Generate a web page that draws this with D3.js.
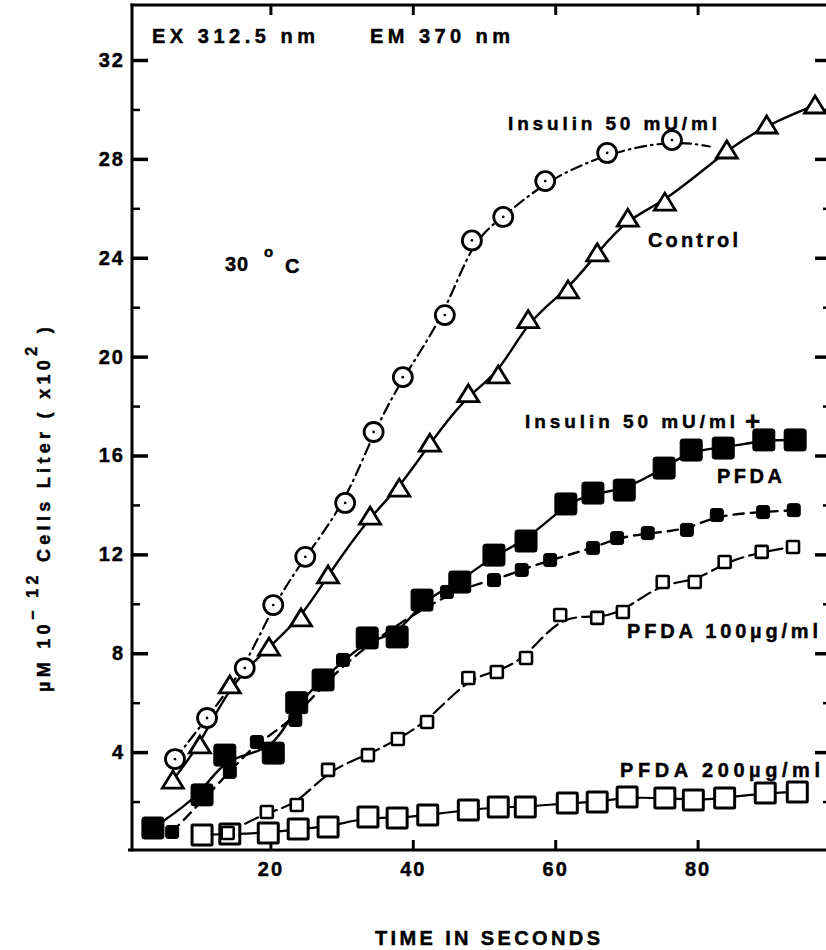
<!DOCTYPE html>
<html><head><meta charset="utf-8">
<script src="https://cdn.jsdelivr.net/npm/d3@7/dist/d3.min.js"></script>
<style>
body{margin:0;background:#fff}
svg{display:block}
text{font-family:"Liberation Sans",Arial,Helvetica,sans-serif;font-weight:bold;fill:#000;stroke:#000;stroke-width:0.45px}
</style>
</head><body>
<svg id="c" width="826" height="950"></svg>
<script>
// ---------- data ----------
const xTicks = [20, 40, 60, 80];
const yMajor = [4, 8, 12, 16, 20, 24, 28, 32];
const yMinor = [2, 6, 10, 14, 18, 22, 26, 30];

// Insulin 50 mU/ml (open circles, dash-dot)
const insulinT = [6.6, 11.1, 16.4, 20.4, 24.9, 30.5, 34.5, 38.6, 44.5, 48.3, 52.7, 58.6, 67.3, 76.4];
const insulinV = [3.72, 5.38, 7.4, 9.95, 11.9, 14.08, 16.95, 19.17, 21.68, 24.7, 25.65, 27.1, 28.24, 28.76];
const insulinTailT = [81.7];
const insulinTailV = [28.5];

// Control (open triangles, solid)
const controlT = [6.3, 10.1, 14.3, 19.8, 24.3, 28.1, 34.0, 38.1, 42.4, 47.8, 52.0, 56.2, 61.8, 65.9, 70.2, 75.4, 84.1, 89.7, 96.5];
const controlV = [2.87, 4.29, 6.72, 8.25, 9.43, 11.17, 13.55, 14.68, 16.5, 18.5, 19.26, 21.5, 22.7, 24.2, 25.6, 26.25, 28.36, 29.37, 30.18];

// Insulin 50 mU/ml + PFDA (large filled squares, solid)
const insPfdaT = [3.5, 10.4, 13.6, 20.4, 23.7, 27.4, 33.6, 37.8, 41.3, 46.6, 51.4, 55.9, 61.5, 65.3, 69.7, 75.3, 79.1, 83.6, 89.3, 93.7];
const insPfdaV = [0.93, 2.27, 3.88, 3.96, 6.0, 6.92, 8.62, 8.66, 10.15, 10.88, 11.97, 12.54, 14.04, 14.48, 14.6, 15.49, 16.22, 16.3, 16.63, 16.63];

// small filled squares (dashed)
const smallFilledT = [6.2, 14.3, 18.1, 23.5, 30.2, 44.8, 51.4, 55.3, 59.3, 65.3, 68.7, 73.0, 78.5, 82.7, 89.2, 93.5];
const smallFilledV = [0.77, 3.2, 4.41, 5.3, 7.73, 10.48, 10.96, 11.37, 11.77, 12.26, 12.66, 12.86, 12.99, 13.59, 13.71, 13.79];

// PFDA 100 ug/ml (small open squares, dashed)
const pfda100T = [14.0, 19.5, 23.7, 28.1, 33.7, 37.9, 42.0, 47.8, 51.8, 55.9, 60.7, 65.9, 69.5, 75.1, 79.6, 83.8, 89.0, 93.4];
const pfda100V = [0.73, 1.58, 1.86, 3.28, 3.88, 4.53, 5.22, 7.0, 7.24, 7.81, 9.55, 9.43, 9.67, 10.88, 10.88, 11.69, 12.1, 12.3];

// PFDA 200 ug/ml (large open squares, solid)
const pfda200T = [10.4, 14.3, 19.7, 23.9, 28.1, 33.7, 37.8, 42.1, 47.8, 52.0, 55.8, 61.7, 65.9, 70.1, 75.4, 79.4, 83.8, 89.5, 94.0];
const pfda200V = [0.65, 0.69, 0.73, 0.89, 0.97, 1.38, 1.33, 1.46, 1.66, 1.78, 1.78, 1.94, 1.98, 2.18, 2.14, 2.06, 2.14, 2.35, 2.39];

const zip = (a, b) => a.map((t, i) => [t, b[i]]);

// ---------- chart ----------
const svg = d3.select("#c");
const x = d3.scaleLinear().domain([0, 100]).range([128, 840]);
const y = d3.scaleLinear().domain([0, 32]).range([851, 60]);
const X0 = 132, X1 = 829, Y0 = 5, Y1 = 850;

// frame
const frame = svg.append("g").attr("stroke", "#000").attr("stroke-width", 3).attr("fill", "none");
frame.append("line").attr("x1", X0).attr("x2", X0).attr("y1", Y0 - 1.5).attr("y2", Y1 + 1.5);
frame.append("line").attr("x1", X1).attr("x2", X1).attr("y1", Y0 - 1.5).attr("y2", Y1 + 1.5);
frame.append("line").attr("x1", X0 - 4).attr("x2", X1).attr("y1", Y1).attr("y2", Y1);
frame.append("line").attr("x1", X0 - 1.5).attr("x2", X1).attr("y1", Y0).attr("y2", Y0);

function styleAxis(g, sw) {
  g.select(".domain").remove();
  g.selectAll(".tick line").attr("stroke", "#000").attr("stroke-width", sw);
  g.selectAll(".tick text").attr("font-size", 20).attr("letter-spacing", 2)
    .attr("font-family", '"Liberation Sans",Arial,sans-serif').attr("font-weight", "bold");
}
svg.append("g").attr("transform", `translate(${X0},0)`)
  .call(d3.axisLeft(y).tickValues(yMajor).tickSize(-16).tickPadding(7).tickFormat(d3.format("d")))
  .call(g => styleAxis(g, 3.5));
svg.append("g").attr("transform", `translate(${X0},0)`)
  .call(d3.axisLeft(y).tickValues(yMinor).tickSize(-8).tickFormat(""))
  .call(g => styleAxis(g, 2.5));
svg.append("g").attr("transform", `translate(${X1},0)`)
  .call(d3.axisRight(y).tickValues(yMajor).tickSize(-14).tickFormat(""))
  .call(g => styleAxis(g, 3.5));
svg.append("g").attr("transform", `translate(${X1},0)`)
  .call(d3.axisRight(y).tickValues(yMinor).tickSize(-6).tickFormat(""))
  .call(g => styleAxis(g, 2.5));
svg.append("g").attr("transform", `translate(0,${Y1})`)
  .call(d3.axisBottom(x).tickValues(xTicks).tickSize(-10).tickPadding(12).tickFormat(d3.format("d")))
  .call(g => styleAxis(g, 3));
svg.append("g").attr("transform", `translate(0,${Y0})`)
  .call(d3.axisTop(x).tickValues(xTicks).tickSize(-10).tickFormat(""))
  .call(g => styleAxis(g, 3));

// lines
const line = d3.line().x(d => x(d[0])).y(d => y(d[1])).curve(d3.curveBasis);
const lines = svg.append("g").attr("fill", "none").attr("stroke", "#000").attr("stroke-linecap", "round");
lines.append("path").datum(zip(insulinT, insulinV).concat(zip(insulinTailT, insulinTailV)))
  .attr("d", line).attr("stroke-width", 2.2).attr("stroke-dasharray", "11,5,1.5,5");
lines.append("path").datum(zip(controlT, controlV)).attr("d", line).attr("stroke-width", 2.4);
lines.append("path").datum(zip(insPfdaT, insPfdaV)).attr("d", line).attr("stroke-width", 2.4);
lines.append("path").datum(zip(smallFilledT, smallFilledV)).attr("d", line).attr("stroke-width", 2.4).attr("stroke-dasharray", "10,7");
lines.append("path").datum(zip(pfda100T, pfda100V)).attr("d", line).attr("stroke-width", 2.2).attr("stroke-dasharray", "14,6");
lines.append("path").datum(zip(pfda200T, pfda200V)).attr("d", line).attr("stroke-width", 2.2);

// markers
const mk = svg.append("g");
function squares(T, V, size, filled, sw) {
  mk.append("g").selectAll("rect").data(zip(T, V)).join("rect")
    .attr("x", d => x(d[0]) - size / 2).attr("y", d => y(d[1]) - size / 2)
    .attr("width", size).attr("height", size).attr("rx", filled ? 2.5 : 1)
    .attr("fill", filled ? "#000" : "#fff").attr("stroke", "#000").attr("stroke-width", sw);
}
squares(pfda200T, pfda200V, 20, false, 3);
squares(pfda100T, pfda100V, 12, false, 2.6);
squares(smallFilledT, smallFilledV, 13, true, 1);
squares(insPfdaT, insPfdaV, 22, true, 1);

// triangles
mk.append("g").selectAll("path").data(zip(controlT, controlV)).join("path")
  .attr("transform", d => `translate(${x(d[0])},${y(d[1])})`)
  .attr("d", "M0,-9L10.5,8L-10.5,8Z")
  .attr("fill", "#fff").attr("stroke", "#000").attr("stroke-width", 2.8).attr("stroke-linejoin", "miter");
// circles with centre dot
const cg = mk.append("g").selectAll("g").data(zip(insulinT, insulinV)).join("g")
  .attr("transform", d => `translate(${x(d[0])},${y(d[1])})`);
cg.append("circle").attr("r", 9.5).attr("fill", "#fff").attr("stroke", "#000").attr("stroke-width", 2.8);
cg.append("circle").attr("r", 1.4).attr("fill", "#000");

// annotation text
function label(txt, x0, yb, len, fs) {
  return svg.append("text").attr("x", x0).attr("y", yb).attr("font-size", fs)
    .attr("textLength", len).attr("lengthAdjust", "spacing").text(txt);
}
label("EX 312.5 nm", 152, 43, 163, 20);
label("EM 370 nm", 370, 43, 140, 20);
label("30", 225, 271, 23, 20);
label("o", 264, 257, 10, 15);
label("C", 285, 273, 15, 20);
label("Insulin 50 mU/ml", 508, 130, 209, 19);
label("Control", 648, 247, 90, 20);
label("Insulin 50 mU/ml", 525, 428, 210, 19);
label("+", 745, 430, 18, 26);
label("PFDA", 717, 483, 65, 20);
label("PFDA 100\u00b5g/ml", 627, 638, 191, 20);
label("PFDA 200\u00b5g/ml", 620, 777, 200, 20);
label("TIME IN SECONDS", 375, 945, 225, 20);

// y-axis title
const yt = svg.append("text").attr("transform", "translate(50,692) rotate(-90)")
  .attr("font-size", 18).attr("letter-spacing", 4.3);
yt.append("tspan").text("\u00b5M 10");
yt.append("tspan").attr("dy", -12).attr("font-size", 16).text("\u2212 12");
yt.append("tspan").attr("dy", 12).text(" Cells Liter  ( x10");
yt.append("tspan").attr("dy", -13).attr("font-size", 16).text("2");
yt.append("tspan").attr("dy", 13).text(" )");
</script>
</body></html>
